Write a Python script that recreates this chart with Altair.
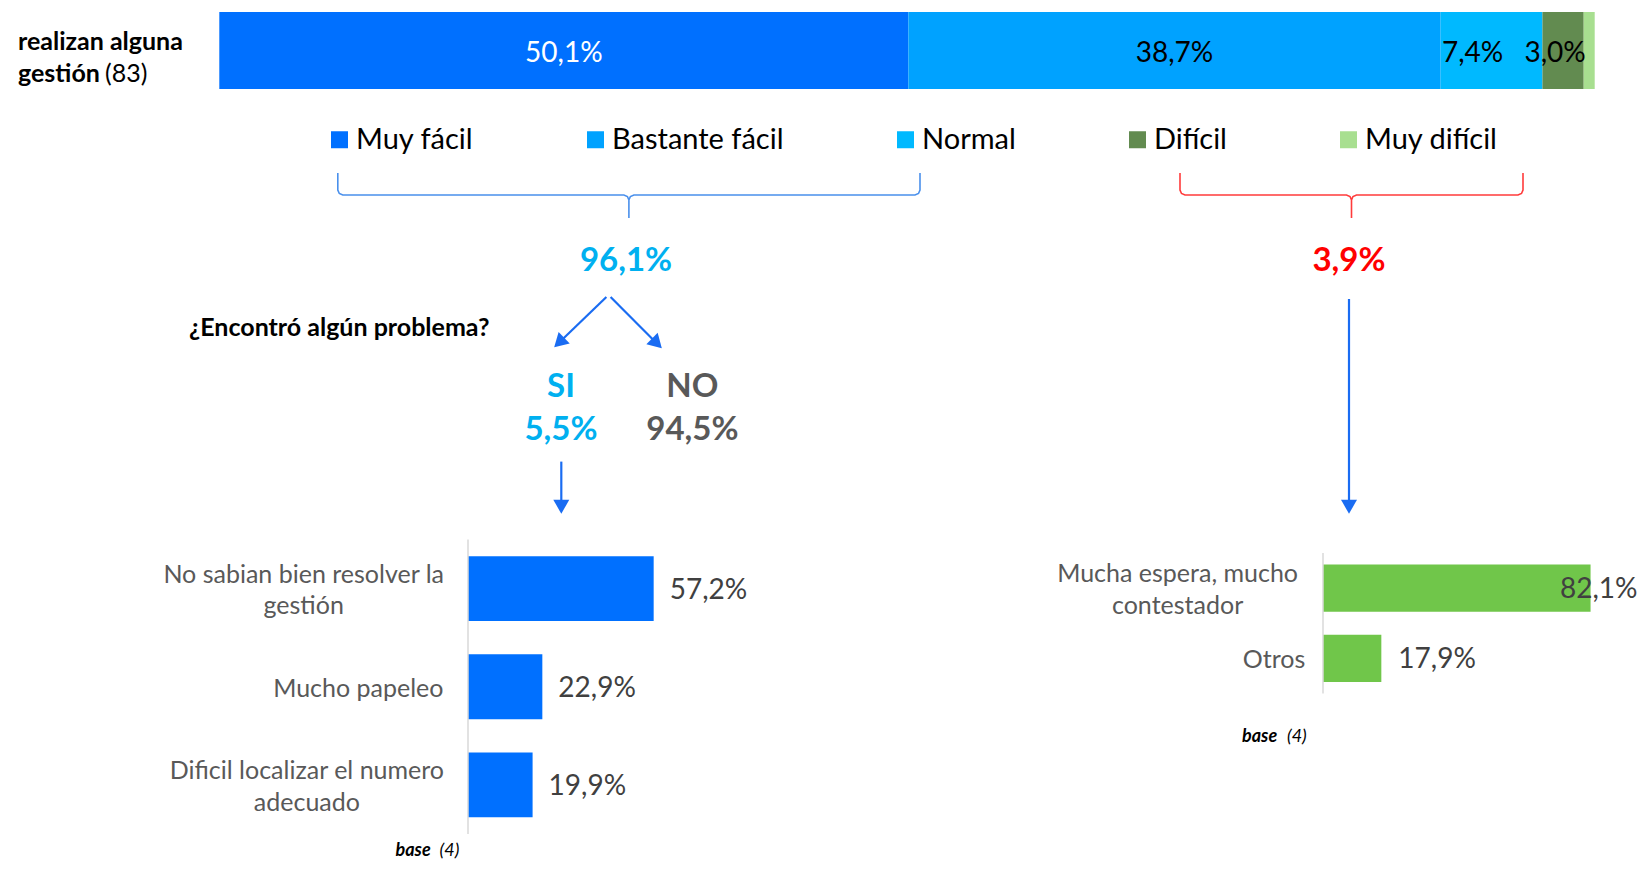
import math
import pandas as pd
import altair as alt

FONT = "Lato"

# ---------------- data ----------------
levels = ["Muy fácil", "Bastante fácil", "Normal", "Difícil", "Muy difícil"]
top_values = [50.1, 38.7, 7.4, 3.0, 0.8]
level_colors = ["#0070FF", "#00A2FF", "#00B9FF", "#628B50", "#A8DF90"]
total_n = 83

easy_total = 96.1
hard_total = 3.9
problem_answers = ["SI", "NO"]
problem_values = [5.5, 94.5]

easy_causes = ["No sabian bien resolver la\ngestión", "Mucho papeleo",
               "Dificil localizar el numero\nadecuado"]
easy_values = [57.2, 22.9, 19.9]
hard_causes = ["Mucha espera, mucho\ncontestador", "Otros"]
hard_values = [82.1, 17.9]
base_n = 4

# ---------------- layout (pixels, not data) ----------------
W, H = 1629, 856
top_range = [211.3, 1586.7]
top_label_shift_px = [0, 0, -19, -8, 0]
left_x_range = [460, 784.6]
left_y_range = [531.5, 826]
left_label_cx = [295.7, 350.3, 298.9]
right_x_range = [1315, 1640.9]
right_y_range = [545, 685.5]
right_label_cx = [1169.6, 1266.0]
right_label_cap_px = 1552
LINE_H = 31.5


def pct(v):
    return f"{v:.1f}".replace(".", ",") + "%"


def one():
    return pd.DataFrame({"k": [0]})


def text(s, x, y, size, color="black", weight="normal", style="normal",
         align="left", baseline="middle"):
    return alt.Chart(pd.DataFrame({"t": [s]})).mark_text(
        font=FONT, fontSize=size, color=color, fontWeight=weight,
        fontStyle=style, align=align, baseline=baseline
    ).encode(x=alt.value(x), y=alt.value(y), text="t:N")


def path(points, color, width):
    df = pd.DataFrame({"px": [p[0] for p in points],
                       "py": [p[1] for p in points],
                       "i": list(range(len(points)))})
    return alt.Chart(df).mark_line(color=color, strokeWidth=width).encode(
        x=alt.X("px:Q", scale=None), y=alt.Y("py:Q", scale=None),
        order="i:Q")


def arrow(start, tip, color, width=2.2, head=16):
    dx, dy = tip[0] - start[0], tip[1] - start[1]
    L = math.hypot(dx, dy)
    ux, uy = dx / L, dy / L
    back = head * 0.45
    hc = (tip[0] - ux * back, tip[1] - uy * back)
    ang = math.degrees(math.atan2(-ux, uy)) % 360
    shaft = path([start, hc], color, width)
    hd = alt.Chart(pd.DataFrame({"px": [hc[0]], "py": [hc[1]]})).mark_point(
        shape="triangle-down", filled=True, size=head * head, angle=ang,
        color=color, opacity=1, strokeWidth=0
    ).encode(x=alt.X("px:Q", scale=None), y=alt.Y("py:Q", scale=None))
    return [shaft, hd]


def brace(left, right, top, mid, tip, color, width=1.6):
    c = (left + right) / 2
    r = 5
    pts = [(left, top), (left, mid - r), (left + r * 0.3, mid - r * 0.3),
           (left + r, mid), (c - r, mid), (c - r * 0.3, mid + r * 0.3),
           (c, mid + r), (c, tip), (c, mid + r), (c + r * 0.3, mid + r * 0.3),
           (c + r, mid), (right - r, mid), (right - r * 0.3, mid - r * 0.3),
           (right, mid - r), (right, top)]
    return path(pts, color, width)


def cat_labels(df, yscale, size):
    """Category labels, two-line ones centred on the band."""
    out = []
    for cond, dy in (("indexof(datum.cat, '\\n') >= 0", 2 - LINE_H / 2),
                     ("indexof(datum.cat, '\\n') < 0", 2)):
        out.append(alt.Chart(df).transform_filter(cond).mark_text(
            font=FONT, fontSize=size, align="center", lineBreak="\n",
            lineHeight=LINE_H, color="#595959", dy=dy, baseline="middle").encode(
            x=alt.X("cx:Q", scale=None),
            y=alt.Y("cat:N", scale=yscale, axis=None), text="cat:N"))
    return out


layers = []

# ---------------- top stacked bar ----------------
top_df = pd.DataFrame({
    "cat": levels, "value": top_values, "order": list(range(len(levels))),
    "label": [pct(v) for v in top_values],
    "shift": [s / ((top_range[1] - top_range[0]) / 100) for s in top_label_shift_px],
})
top_scale = alt.Scale(domain=[0, 100], range=top_range)

top_bar = alt.Chart(top_df).transform_window(
    end="sum(value)", sort=[alt.SortField("order")], frame=[None, 0]
).transform_calculate(start="datum.end - datum.value").mark_bar().encode(
    x=alt.X("start:Q", scale=top_scale, axis=None),
    x2="end:Q",
    y=alt.value(4), y2=alt.value(81),
    color=alt.Color("cat:N", scale=alt.Scale(domain=levels, range=level_colors),
                    legend=alt.Legend(orient="none", legendX=317, legendY=117,
                                      direction="horizontal", columns=5, title=None,
                                      symbolType="square", symbolSize=289,
                                      symbolStrokeWidth=0, labelFont=FONT,
                                      labelFontSize=29, labelColor="black",
                                      labelOffset=2, columnPadding=107,
                                      labelLimit=400, padding=0, offset=0)),
)
layers.append(top_bar)

top_text = alt.Chart(top_df).transform_window(
    cum="sum(value)", sort=[alt.SortField("order")], frame=[None, 0]
).transform_calculate(
    mid="datum.cum - datum.value / 2 + datum.shift"
).transform_filter("datum.order < 4").mark_text(
    font=FONT, fontSize=28, baseline="middle", align="center"
).encode(
    x=alt.X("mid:Q", scale=top_scale, axis=None),
    y=alt.value(46),
    text="label:N",
    color=alt.condition(alt.datum.order == 0, alt.value("white"), alt.value("black")),
)
layers.append(top_text)

layers.append(text("realizan alguna", 10, 34, 25, weight="bold"))
layers.append(text("gestión", 10, 66, 25, weight="bold"))
layers.append(text(f"({total_n})", 97, 66, 25))

# ---------------- braces & totals ----------------
layers.append(brace(329.8, 912, 165, 187, 210, "#4A90EC"))
layers.append(brace(1172, 1515, 165, 187, 210, "#FF3B3B"))
layers.append(text(pct(easy_total), 618, 253, 33, color="#00B0F0", weight="bold", align="center"))
layers.append(text(pct(hard_total), 1341, 253, 33, color="#FF0000", weight="bold", align="center"))

# ---------------- flow ----------------
ARROW = "#1A6CF2"
layers += arrow((598.4, 289), (546, 339.5), ARROW)
layers += arrow((602.6, 289), (654, 340.5), ARROW)
layers += arrow((553.3, 453.6), (553.3, 506), ARROW)
layers += arrow((1341, 291), (1341, 506), ARROW)

layers.append(text("¿Encontró algún problema?", 181, 320, 25, weight="bold"))
layers.append(text(problem_answers[0], 553, 379, 33, color="#00B0F0", weight="bold", align="center"))
layers.append(text(pct(problem_values[0]), 553, 422, 33, color="#00B0F0", weight="bold", align="center"))
layers.append(text(problem_answers[1], 684.4, 379, 33, color="#595959", weight="bold", align="center"))
layers.append(text(pct(problem_values[1]), 684.4, 422, 33, color="#595959", weight="bold", align="center"))

# ---------------- left bar chart ----------------
left_df = pd.DataFrame({"cat": easy_causes, "value": easy_values,
                        "label": [pct(v) for v in easy_values],
                        "cx": left_label_cx})
lx = alt.Scale(domain=[0, 100], range=left_x_range)
ly = alt.Scale(domain=easy_causes, range=left_y_range, paddingInner=0.34, paddingOuter=0.17)

layers.append(alt.Chart(left_df).mark_bar(color="#0070FF").encode(
    x=alt.X("value:Q", scale=lx, axis=None),
    y=alt.Y("cat:N", scale=ly, axis=None)))
layers.append(alt.Chart(left_df).mark_text(
    font=FONT, fontSize=28, align="left", dx=16, dy=2, color="#404040").encode(
    x=alt.X("value:Q", scale=lx, axis=None),
    y=alt.Y("cat:N", scale=ly, axis=None), text="label:N"))
layers += cat_labels(left_df, ly, 25)
layers.append(alt.Chart(one()).mark_rule(color="#D9D9D9", strokeWidth=1.5).encode(
    x=alt.value(left_x_range[0]), y=alt.value(left_y_range[0]), y2=alt.value(left_y_range[1])))
layers.append(text("base", 387.5, 843, 18, weight="bold", style="italic"))
layers.append(text(f"({base_n})", 431.6, 843, 18, style="italic"))

# ---------------- right bar chart ----------------
rpx = (right_x_range[1] - right_x_range[0]) / 100
right_df = pd.DataFrame({"cat": hard_causes, "value": hard_values,
                         "label": [pct(v) for v in hard_values],
                         "cx": right_label_cx})
rx = alt.Scale(domain=[0, 100], range=right_x_range)
ry = alt.Scale(domain=hard_causes, range=right_y_range, paddingInner=0.33, paddingOuter=0.165)

layers.append(alt.Chart(right_df).mark_bar(color="#70C64A").encode(
    x=alt.X("value:Q", scale=rx, axis=None),
    y=alt.Y("cat:N", scale=ry, axis=None)))
layers.append(alt.Chart(right_df).transform_calculate(
    lx=f"min(datum.value + {17 / rpx}, {(right_label_cap_px - right_x_range[0]) / rpx})"
).mark_text(font=FONT, fontSize=28, align="left", dy=2, color="#404040").encode(
    x=alt.X("lx:Q", scale=rx, axis=None),
    y=alt.Y("cat:N", scale=ry, axis=None), text="label:N"))
layers += cat_labels(right_df, ry, 25)
layers.append(alt.Chart(one()).mark_rule(color="#D9D9D9", strokeWidth=1.5).encode(
    x=alt.value(right_x_range[0]), y=alt.value(right_y_range[0]), y2=alt.value(right_y_range[1])))
layers.append(text("base", 1234, 729, 18, weight="bold", style="italic"))
layers.append(text(f"({base_n})", 1279, 729, 18, style="italic"))

chart = alt.layer(*layers).resolve_scale(
    x="independent", y="independent", color="independent"
).properties(
    width=W, height=H, padding=0, autosize=alt.AutoSizeParams(type="none")
).configure_view(stroke=None)

chart.save("out.html", embed_options={"renderer": "svg", "actions": False})
